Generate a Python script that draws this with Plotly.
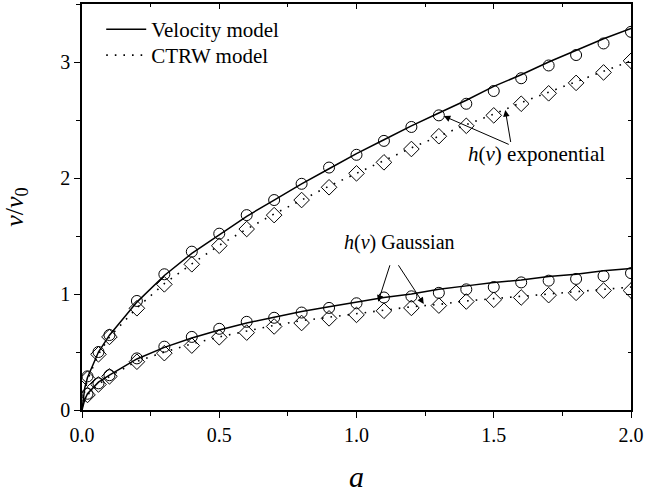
import plotly.graph_objects as go

# ---- data ----
a_pts = [0.02, 0.06, 0.1, 0.2, 0.3, 0.4, 0.5, 0.6, 0.7, 0.8, 0.9, 1.0,
         1.1, 1.2, 1.3, 1.4, 1.5, 1.6, 1.7, 1.8, 1.9, 2.0]
exp_vel_pts = [0.29, 0.50, 0.646, 0.94, 1.17, 1.365, 1.52, 1.68, 1.81, 1.95, 2.09, 2.20,
               2.32, 2.44, 2.54, 2.64, 2.75, 2.86, 2.97, 3.06, 3.16, 3.26]
exp_ctrw_pts = [0.27, 0.48, 0.63, 0.877, 1.083, 1.256, 1.416, 1.56, 1.68, 1.81, 1.92, 2.04,
                2.135, 2.25, 2.36, 2.45, 2.54, 2.64, 2.73, 2.82, 2.91, 3.01]
gau_vel_pts = [0.14, 0.23, 0.30, 0.445, 0.546, 0.63, 0.70, 0.76, 0.795, 0.84, 0.88, 0.92,
               0.97, 0.98, 1.01, 1.04, 1.06, 1.10, 1.115, 1.13, 1.155, 1.18]
gau_ctrw_pts = [0.13, 0.22, 0.29, 0.416, 0.49, 0.555, 0.627, 0.667, 0.72, 0.75, 0.79, 0.82,
                0.855, 0.88, 0.90, 0.935, 0.95, 0.97, 0.99, 1.01, 1.03, 1.03]

a_line = [0.0, 0.01, 0.02, 0.06, 0.1, 0.2, 0.3, 0.4, 0.5, 0.6, 0.7, 0.8, 0.9, 1.0,
          1.1, 1.2, 1.3, 1.4, 1.5, 1.6, 1.7, 1.8, 1.9, 2.0]
exp_vel_line = [0.0, 0.19, 0.28, 0.50, 0.645, 0.93, 1.16, 1.35, 1.51, 1.67, 1.81, 1.95, 2.08, 2.21,
                2.33, 2.45, 2.56, 2.67, 2.79, 2.89, 3.00, 3.10, 3.20, 3.29]
exp_ctrw_line = [0.0, 0.17, 0.26, 0.48, 0.63, 0.88, 1.09, 1.26, 1.42, 1.56, 1.69, 1.81, 1.93, 2.04,
                 2.15, 2.26, 2.36, 2.46, 2.55, 2.65, 2.74, 2.83, 2.92, 3.01]
gau_vel_line = [0.0, 0.09, 0.14, 0.24, 0.30, 0.44, 0.54, 0.62, 0.69, 0.75, 0.80, 0.85, 0.89, 0.93,
                0.97, 1.00, 1.04, 1.07, 1.10, 1.12, 1.15, 1.17, 1.20, 1.22]
gau_ctrw_line = [0.0, 0.08, 0.13, 0.22, 0.29, 0.42, 0.50, 0.57, 0.63, 0.68, 0.73, 0.77, 0.80, 0.83,
                 0.86, 0.89, 0.91, 0.94, 0.96, 0.98, 1.00, 1.02, 1.04, 1.06]

x_ticks = [0.0, 0.5, 1.0, 1.5, 2.0]
x_tick_labels = ["0.0", "0.5", "1.0", "1.5", "2.0"]
y_ticks = [0, 1, 2, 3]
y_tick_labels = ["0", "1", "2", "3"]

FONT = "Liberation Serif"
solid = dict(color="black", width=1.5)
dotted = dict(color="black", width=1.6, dash="1.6px,7px")

fig = go.Figure()
fig.add_trace(go.Scatter(x=a_line, y=exp_vel_line, mode="lines", line=solid,
                         name="Velocity model", legend="legend"))
fig.add_trace(go.Scatter(x=a_line, y=exp_ctrw_line, mode="lines", line=dotted,
                         name="CTRW model", legend="legend2"))
fig.add_trace(go.Scatter(x=a_line, y=gau_vel_line, mode="lines", line=solid, showlegend=False))
fig.add_trace(go.Scatter(x=a_line, y=gau_ctrw_line, mode="lines", line=dotted, showlegend=False))

circ = dict(symbol="circle-open", size=11, color="black", line=dict(width=1, color="black"))
diam = dict(symbol="diamond-open", size=12, color="black", line=dict(width=1, color="black"))
for ys, mk in [(exp_vel_pts, circ), (exp_ctrw_pts, diam), (gau_vel_pts, circ), (gau_ctrw_pts, diam)]:
    fig.add_trace(go.Scatter(x=a_pts, y=ys, mode="markers", marker=mk, showlegend=False))

# annotations
fig.add_annotation(x=1.657, y=2.207, xref="x", yref="y", showarrow=False,
                   text="<i>h</i>(<i>v</i>) exponential", font=dict(family=FONT, size=21, color="black"))
fig.add_annotation(x=1.157, y=1.44, xref="x", yref="y", showarrow=False,
                   text="<i>h</i>(<i>v</i>) Gaussian", font=dict(family=FONT, size=20, color="black"))
arrows = [
    (1.318, 2.534, 1.560, 2.284),
    (1.542, 2.586, 1.563, 2.293),
    (1.079, 0.934, 1.124, 1.265),
    (1.245, 0.914, 1.148, 1.265),
]
for hx, hy, tx, ty in arrows:
    fig.add_annotation(x=hx, y=hy, ax=tx, ay=ty, xref="x", yref="y", axref="x", ayref="y",
                       text=" ", showarrow=True, arrowhead=2, arrowsize=1.3, arrowwidth=1,
                       arrowcolor="black", standoff=0, font=dict(size=1))

axis_common = dict(showline=True, linecolor="black", linewidth=1.5, showgrid=False, zeroline=False,
                   tickcolor="black", tickwidth=1.2, automargin=False,
                   tickfont=dict(family=FONT, size=20, color="black"))

legend_common = dict(x=0.035, xanchor="left", yanchor="top", bgcolor="rgba(0,0,0,0)",
                     font=dict(family=FONT, size=21, color="black"), itemwidth=40)

fig.update_layout(
    width=645, height=493,
    margin=dict(l=82, r=14, t=4, b=83),
    paper_bgcolor="white", plot_bgcolor="white",
    font=dict(family=FONT, color="black"),
    xaxis=dict(range=[0, 2.0], tickvals=x_ticks, ticktext=x_tick_labels, ticks="outside", ticklen=6,
               minor=dict(tickvals=[0.25, 0.75, 1.25, 1.75], ticks="outside", ticklen=4,
                          tickcolor="black", tickwidth=1.2),
               title=dict(text="<i>a</i>", font=dict(family=FONT, size=30, color="black"), standoff=21),
               **axis_common),
    yaxis=dict(range=[0, 3.5], tickvals=y_ticks, ticktext=y_tick_labels, ticks="outside", ticklen=6,
               minor=dict(tickvals=[0.5, 1.5, 2.5, 3.5], ticks="outside", ticklen=4,
                          tickcolor="black", tickwidth=1.2),
               title=dict(text="<i>v</i>/<i>v</i><sub>0</sub>", font=dict(family=FONT, size=26, color="black"),
                          standoff=31),
               **axis_common),
    xaxis2=dict(overlaying="x", side="top", range=[0, 2.0], tickvals=x_ticks, showticklabels=False,
                ticks="inside", ticklen=5, tickcolor="black", tickwidth=1.2, automargin=False,
                minor=dict(tickvals=[0.25, 0.75, 1.25, 1.75], ticks="inside", ticklen=3,
                           tickcolor="black", tickwidth=1.2),
                showline=True, linecolor="black", linewidth=1.5, showgrid=False, zeroline=False),
    yaxis2=dict(overlaying="y", side="right", range=[0, 3.5], tickvals=y_ticks, showticklabels=False,
                ticks="inside", ticklen=5, tickcolor="black", tickwidth=1.2, automargin=False,
                minor=dict(tickvals=[0.5, 1.5, 2.5, 3.5], ticks="inside", ticklen=3,
                           tickcolor="black", tickwidth=1.2),
                showline=True, linecolor="black", linewidth=1.5, showgrid=False, zeroline=False),
    legend=dict(y=0.9877, **legend_common),
    legend2=dict(y=0.9236, **legend_common),
    showlegend=True,
)
# dummy trace to activate the mirrored axes
fig.add_trace(go.Scatter(x=[None], y=[None], xaxis="x2", yaxis="y2", showlegend=False))

fig.write_html("out.html", config={"displayModeBar": False},
               post_script="document.body.style.margin='0';document.body.style.padding='0';")
